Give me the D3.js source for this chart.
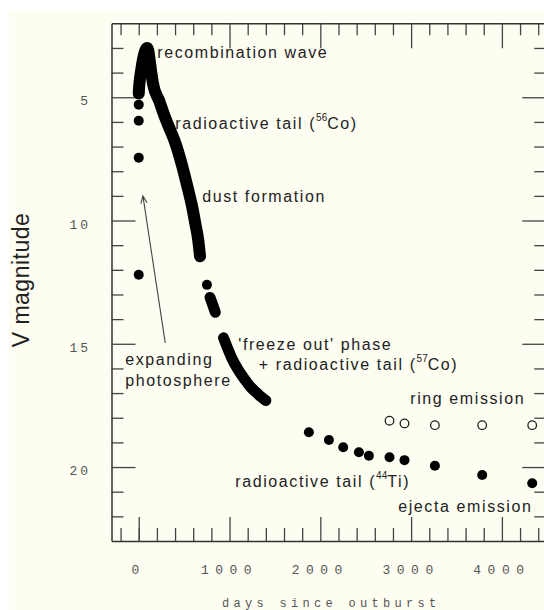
<!DOCTYPE html>
<html>
<head>
<meta charset="utf-8">
<script src="https://cdn.jsdelivr.net/npm/d3@7"></script>
<style>
  body { margin: 0; background: #fff; }
  .tick-label { font-family: "Liberation Mono", monospace; fill: #555; }
  .note { font-family: "Liberation Sans", Arial, sans-serif; font-size: 16px; fill: #222; letter-spacing: 1.6px; }
</style>
</head>
<body>
<div class="diagram"></div>
<script>
var width = 544, height = 610;

// light curve, [days since outburst, V magnitude]
var firstNights = [[0, 12.2], [0, 7.45], [0, 5.95], [0, 5.3]];
var earlyBand = [[0, 4.85], [5, 4.55], [12, 4.3], [25, 3.95], [40, 3.6], [60, 3.25], [80, 3.05], [95, 3.0],
  [105, 3.1], [127, 3.7], [160, 4.5], [226, 5.15], [292, 5.84], [347, 6.33], [391, 6.73], [435, 7.22],
  [490, 7.95], [545, 8.76], [589, 9.45], [622, 10.1], [655, 10.79], [675, 11.45]];
var midDot = [[751, 12.61]];
var midBand = [[785, 13.12], [815, 13.42], [843, 13.72]];
var lateBand = [[934, 14.76], [970, 15.1], [1026, 15.59], [1096, 16.06], [1173, 16.47], [1228, 16.74],
  [1302, 17.0], [1350, 17.16], [1400, 17.3]];

var ejectaDays = [1874, 2095, 2252, 2425, 2535, 2762, 2927, 3262, 3783, 4334];
var ejectaMags = [18.59, 18.9, 19.2, 19.4, 19.54, 19.6, 19.72, 19.95, 20.32, 20.66];
var ringDays = [2762, 2927, 3262, 3783, 4334];
var ringMags = [18.12, 18.23, 18.3, 18.3, 18.3];

var xTickLabels = [0, 1000, 2000, 3000, 4000];
var yTickLabels = [5, 10, 15, 20];

var notes = [
  { day: 204, mag: 3.41, parts: [['recombination wave']] },
  { day: 402, mag: 6.27, parts: [['radioactive tail ('], ['56', 'sup'], ['Co)']] },
  { day: 699, mag: 9.23, parts: [['dust formation']] },
  { day: -149, mag: 15.86, parts: [['expanding']] },
  { day: -149, mag: 16.71, parts: [['photosphere']] },
  { day: 1096, mag: 15.25, parts: [["'freeze out' phase"]] },
  { day: 1322, mag: 16.06, parts: [['+ radioactive tail ('], ['57', 'sup'], ['Co)']] },
  { day: 2990, mag: 17.44, parts: [['ring emission']] },
  { day: 1063, mag: 20.81, parts: [['radioactive tail ('], ['44', 'sup'], ['Ti)']] },
  { day: 2858, mag: 21.82, parts: [['ejecta emission']] }
];
var arrowFrom = [292, 14.96], arrowTo = [46, 9.0];

var x = d3.scaleLinear().domain([-300, 4500]).range([111.5, 547.3]);
var y = d3.scaleLinear().domain([2, 23]).range([23.3, 541]);

var svg = d3.select('.diagram')
  .append('svg')
  .attr('width', width)
  .attr('height', height);

svg.append('rect')
  .attr('x', 9).attr('y', 10)
  .attr('width', width - 9).attr('height', height - 10)
  .attr('fill', '#fdfdf2');

// ticks on all four sides, long ones at the labelled values
var dayMinor = d3.range(-200, 4500, 200).filter(function(d) { return d % 1000 !== 0; });
var magMinor = d3.range(3, 23).filter(function(d) { return d % 5 !== 0; });

function drawAxis(axis, transform, values, size, domain) {
  var g = svg.append('g')
    .attr('transform', transform)
    .call(axis.tickValues(values).tickSize(size).tickSizeOuter(0).tickFormat(''));
  g.selectAll('.tick line').attr('stroke', '#444').attr('stroke-width', 1.3);
  if (domain) g.select('.domain').attr('stroke', '#333').attr('stroke-width', 1.5);
  else g.select('.domain').remove();
}

drawAxis(d3.axisBottom(x), 'translate(0,' + y.range()[1] + ')', dayMinor.concat([0]), -13, false);
drawAxis(d3.axisBottom(x), 'translate(0,' + y.range()[1] + ')', xTickLabels, -24, true);
drawAxis(d3.axisTop(x), 'translate(0,' + y.range()[0] + ')', dayMinor.concat([0]), -12, false);
drawAxis(d3.axisTop(x), 'translate(0,' + y.range()[0] + ')', [1000, 2000, 3000, 4000], -25, true);
drawAxis(d3.axisLeft(y), 'translate(' + x.range()[0] + ',0)', magMinor, -12, false);
drawAxis(d3.axisLeft(y), 'translate(' + x.range()[0] + ',0)', yTickLabels, -24, true);
drawAxis(d3.axisRight(y), 'translate(' + x.range()[1] + ',0)', magMinor, -13, false);
drawAxis(d3.axisRight(y), 'translate(' + x.range()[1] + ',0)', yTickLabels, -25, true);

svg.selectAll('.xlab')
  .data(xTickLabels)
  .enter().append('text')
  .attr('class', 'tick-label')
  .attr('x', function(d) { return x(d); })
  .attr('y', 574)
  .attr('text-anchor', 'middle')
  .style('font-size', '13px')
  .style('letter-spacing', '6.5px')
  .text(function(d) { return d; });

svg.selectAll('.ylab')
  .data(yTickLabels)
  .enter().append('text')
  .attr('class', 'tick-label')
  .attr('x', 91)
  .attr('y', function(d) { return y(d) + 8; })
  .attr('text-anchor', 'end')
  .style('font-size', '13px')
  .style('letter-spacing', '3px')
  .text(function(d) { return d; });

svg.append('text')
  .attr('class', 'tick-label')
  .attr('x', 222)
  .attr('y', 607)
  .style('font-size', '12px')
  .style('letter-spacing', '4.3px')
  .text('days since outburst');

svg.append('text')
  .attr('transform', 'translate(29,280) rotate(-90)')
  .attr('text-anchor', 'middle')
  .style('font-family', '"Liberation Sans", Arial, sans-serif')
  .style('font-size', '23px')
  .style('letter-spacing', '0.5px')
  .attr('fill', '#222')
  .text('V magnitude');

// the densely sampled parts of the curve are drawn as thick strokes
var line = d3.line()
  .x(function(d) { return x(d[0]); })
  .y(function(d) { return y(d[1]); })
  .curve(d3.curveMonotoneX);

svg.append('g')
  .selectAll('path')
  .data([earlyBand, midBand, lateBand])
  .enter().append('path')
  .attr('d', line)
  .attr('fill', 'none')
  .attr('stroke', '#000')
  .attr('stroke-width', function(d, i) { return i === 0 ? 12 : 11; })
  .attr('stroke-linecap', 'round')
  .attr('stroke-linejoin', 'round');

svg.append('g')
  .selectAll('circle')
  .data(firstNights.concat(midDot))
  .enter().append('circle')
  .attr('cx', function(d) { return x(d[0]); })
  .attr('cy', function(d) { return y(d[1]); })
  .attr('r', 5)
  .attr('fill', '#000');

svg.append('g')
  .selectAll('circle')
  .data(ejectaDays)
  .enter().append('circle')
  .attr('cx', function(d) { return x(d); })
  .attr('cy', function(d, i) { return y(ejectaMags[i]); })
  .attr('r', 5)
  .attr('fill', '#000');

svg.append('g')
  .selectAll('circle')
  .data(ringDays)
  .enter().append('circle')
  .attr('cx', function(d) { return x(d); })
  .attr('cy', function(d, i) { return y(ringMags[i]); })
  .attr('r', 4.3)
  .attr('fill', 'none')
  .attr('stroke', '#222')
  .attr('stroke-width', 1.3);

// labels
var note = svg.append('g')
  .selectAll('text')
  .data(notes)
  .enter().append('text')
  .attr('class', 'note')
  .attr('x', function(d) { return x(d.day); })
  .attr('y', function(d) { return y(d.mag); });

note.each(function(d) {
  var t = d3.select(this);
  var shifted = false;
  d.parts.forEach(function(p) {
    var span = t.append('tspan').text(p[0]);
    if (p[1] === 'sup') {
      span.attr('dy', -8).style('font-size', '10px').style('letter-spacing', '0px');
      shifted = true;
    } else if (shifted) {
      span.attr('dy', 8);
      shifted = false;
    }
  });
});

// arrow pointing at the first nights
var ax0 = x(arrowFrom[0]), ay0 = y(arrowFrom[1]);
var ax1 = x(arrowTo[0]), ay1 = y(arrowTo[1]);
var ang = Math.atan2(ay1 - ay0, ax1 - ax0);
var head = 8, spread = 0.4;
svg.append('path')
  .attr('d', 'M' + ax0 + ',' + ay0 + 'L' + ax1 + ',' + ay1 +
    'M' + (ax1 - head * Math.cos(ang - spread)) + ',' + (ay1 - head * Math.sin(ang - spread)) +
    'L' + ax1 + ',' + ay1 +
    'L' + (ax1 - head * Math.cos(ang + spread)) + ',' + (ay1 - head * Math.sin(ang + spread)))
  .attr('fill', 'none')
  .attr('stroke', '#444')
  .attr('stroke-width', 1.1);
</script>
</body>
</html>
